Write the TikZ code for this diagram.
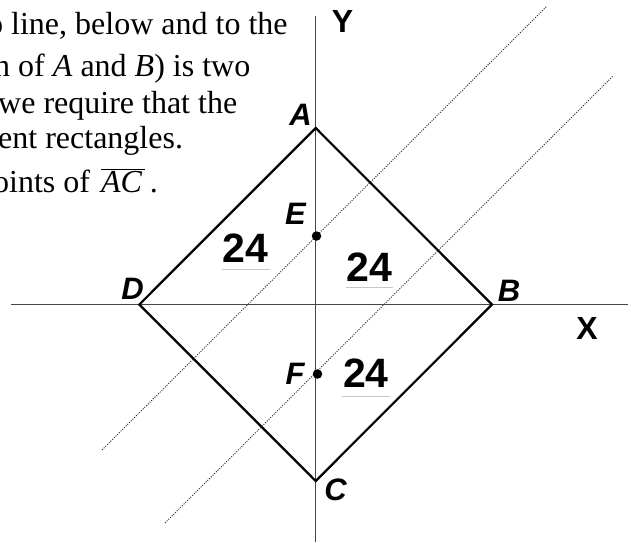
\documentclass[tikz,border=0pt]{standalone}
\usepackage{fontspec}
\setmainfont{Liberation Serif}
\newfontfamily\arialf{Liberation Sans}
\begin{document}
\begin{tikzpicture}[x=1pt,y=-1pt,
  prose/.style={anchor=base west,inner sep=0pt,font=\fontsize{32}{38}\selectfont},
  vlabel/.style={inner sep=0pt,font=\arialf\fontsize{31}{36}\selectfont\bfseries\itshape},
  axlabel/.style={inner sep=0pt,font=\arialf\fontsize{32}{36}\selectfont\bfseries},
  area/.style={inner sep=0pt,font=\arialf\fontsize{41}{46}\selectfont\bfseries},
  axis/.style={draw=black!72,line width=1.1pt},
  side/.style={draw=black,line width=2.2pt,line join=miter},
  guide/.style={draw=black!80,line width=0.9pt,dash pattern=on 1.1pt off 1.3pt},
  uline/.style={draw=black!22,line width=1pt},
  pt/.style={circle,fill=black,inner sep=0pt,minimum size=9.5pt}]
\useasboundingbox (0,0) rectangle (631,542);
\clip (0,0) rectangle (631,542);
% prose text (cut at the left edge)
\node[prose] (t1) at (-13,34) {o line, below and to the};
\node[prose] (t2) at (-6,76) {n of \textit{A} and \textit{B}) is two};
\node[prose] (t3) at (-2,113) {we require that the};
\node[prose] (t4) at (-2,148.5) {ent rectangles.};
\node[prose] (t5) at (-7,192) {oints of\hspace{11pt}$\overline{\mbox{\itshape AC\hspace{3pt}}}$\hspace{5pt}.};
% axes
\coordinate (xl) at (11,304.5);
\coordinate (xr) at (628,304.5);
\coordinate (yt) at (315.7,16);
\coordinate (yb) at (315.7,542);
\draw[axis] (xl) -- (xr);
\draw[axis] (yt) -- (yb);
% square
\coordinate (A) at (315.7,128);
\coordinate (B) at (492,304.5);
\coordinate (C) at (315.7,481);
\coordinate (D) at (139.3,304.5);
\draw[side] (A) -- (B) -- (C) -- (D) -- cycle;
% guide lines
\coordinate (g1s) at (102,450);
\coordinate (g1e) at (547,6);
\coordinate (g2s) at (165,523);
\coordinate (g2e) at (613,76);
\draw[guide] (g1s) -- (g1e);
\draw[guide] (g2s) -- (g2e);
% points
\node[pt] (E) at (316.5,236) {};
\node[pt] (F) at (317.5,374) {};
% labels
\node[vlabel] (lA) at (300.5,115) {A};
\node[vlabel] (lB) at (509,291) {B};
\node[vlabel] (lC) at (335.5,489.5) {C};
\node[vlabel] (lD) at (132.5,288.5) {D};
\node[vlabel] (lE) at (295.5,214) {E};
\node[vlabel] (lF) at (295,374) {F};
\node[axlabel] (lX) at (587,328.5) {X};
\node[axlabel] (lY) at (342.5,21.5) {Y};
% areas
\node[area] (a1) at (245.5,248) {24};
\node[area] (a2) at (369.5,267) {24};
\node[area] (a3) at (366,373.5) {24};
\coordinate (u1l) at (222,269.5); \coordinate (u1r) at (270,269.5);
\coordinate (u2l) at (346,287.5); \coordinate (u2r) at (393,287.5);
\coordinate (u3l) at (342,396); \coordinate (u3r) at (390,396);
\draw[uline] (u1l) -- (u1r);
\draw[uline] (u2l) -- (u2r);
\draw[uline] (u3l) -- (u3r);
\end{tikzpicture}
\end{document}
